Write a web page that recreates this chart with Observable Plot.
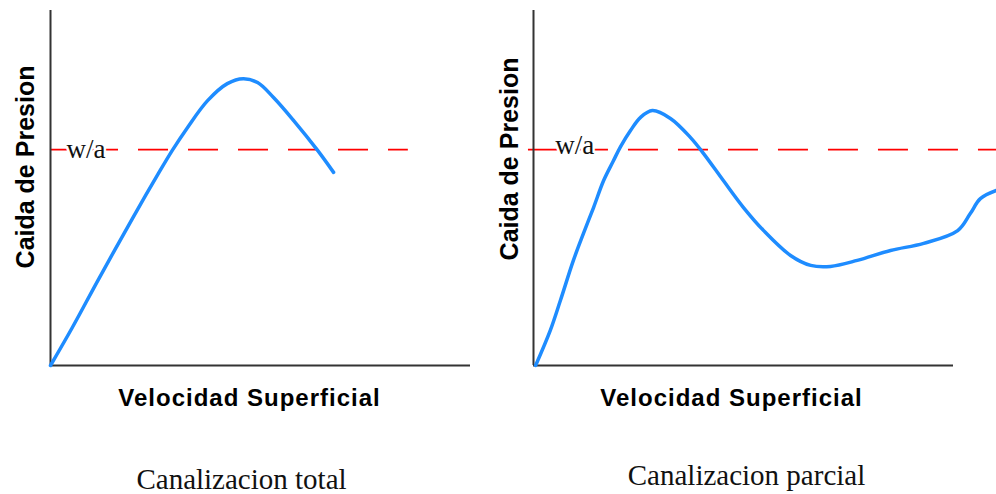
<!DOCTYPE html>
<html>
<head>
<meta charset="utf-8">
<script src="https://cdn.jsdelivr.net/npm/d3@7"></script>
<script src="https://cdn.jsdelivr.net/npm/@observablehq/plot@0.6"></script>
<style>
  html, body { margin: 0; padding: 0; background: #fff; }
  #wrap { display: flex; width: 996px; height: 494px; overflow: hidden; }
  .xlab text { letter-spacing: 1px; }
</style>
</head>
<body>
<div id="wrap"></div>
<script>
// ---- data (arbitrary units: x 0–100 along axis, y 0–100 up the axis) ----
const titles = ["Canalizacion total", "Canalizacion parcial"];
const xLabel = "Velocidad Superficial";
const yLabel = "Caida de Presion";
const thresholdLabel = "w/a";
const threshold = 60.8;

const xTotal = [0, 5.2, 11.4, 19.5, 25.7, 29.0, 32.6, 37.4, 42.1, 45.9, 49.3, 53.1, 57.9, 63.6, 67.4];
const yTotal = [0, 10.7, 24.2, 41.4, 54.1, 60.6, 67.0, 74.6, 79.4, 80.8, 79.7, 75.5, 69.0, 60.6, 54.4];

const xParcial = [0.5, 4.0, 6.4, 9.5, 11.9, 14.3, 16.7, 19.0, 20.7, 23.1, 25.5, 28.3, 32.6, 37.4, 40.5, 45.2, 50.0, 54.8, 61.2, 66.0, 70.7, 77.1, 85.0, 92.9, 101.0, 104.0, 106.4, 110.2];
const yParcial = [0, 9.9, 18.3, 29.6, 37.2, 44.5, 52.1, 57.6, 61.6, 66.2, 69.9, 71.8, 69.6, 64.2, 59.7, 52.1, 44.5, 38.0, 31.0, 28.2, 27.9, 29.6, 32.4, 34.4, 38.0, 42.8, 47.0, 49.3];

const BLUE = "#1e8cff", RED = "#ff0000", AXIS = "#333";
const SANS = "Liberation Sans, Arial, sans-serif";
const SERIF = "Liberation Serif, Times New Roman, serif";

function panel(cfg) {
  const pts = cfg.xs.map((x, i) => ({x, y: cfg.ys[i]}));
  return Plot.plot({
    width: cfg.width, height: 494,
    marginLeft: cfg.marginLeft, marginRight: cfg.marginRight,
    marginTop: 10, marginBottom: 129,
    x: {domain: cfg.xDomain, axis: null},
    y: {domain: [0, 100], axis: null},
    marks: [
      Plot.ruleY([threshold], {x1: cfg.dash[0], x2: cfg.dash[1], stroke: RED, strokeWidth: 1.8, strokeDasharray: "30,20", strokeDashoffset: cfg.dashOffset}),
      Plot.text([thresholdLabel], {x: cfg.waX, y: threshold, text: d => d, textAnchor: "start", lineAnchor: "bottom", dy: cfg.waDy,
        fontFamily: SERIF, fontSize: 27, fill: "#111", stroke: "white", strokeWidth: 5}),
      Plot.ruleX([0], {y1: 0, y2: 100, stroke: AXIS, strokeWidth: 2}),
      Plot.ruleY([0], {x1: 0, x2: 100, stroke: AXIS, strokeWidth: 2}),
      Plot.line(pts, {x: "x", y: "y", stroke: BLUE, strokeWidth: 3.5, curve: "catmull-rom"}),
      Plot.text([yLabel], {frameAnchor: "left", text: d => d, rotate: -90, textAnchor: "middle", lineAnchor: "bottom",
        dx: cfg.yLabDx, dy: cfg.yLabDy, fontFamily: SANS, fontWeight: "bold", fontSize: 25, fill: "#000"}),
      Plot.text([xLabel], {frameAnchor: "bottom", text: d => d, textAnchor: "middle", lineAnchor: "bottom",
        dx: cfg.xLabDx, dy: 40, fontFamily: SANS, fontWeight: "bold", fontSize: 24, fill: "#000", className: "xlab"}),
      Plot.text([cfg.title], {frameAnchor: "bottom", text: d => d, textAnchor: "middle", lineAnchor: "bottom",
        dx: cfg.titleDx, dy: cfg.titleDy, fontFamily: SERIF, fontSize: 29, fill: "#111"})
    ]
  });
}

const wrap = document.getElementById("wrap");
wrap.appendChild(panel({
  title: titles[0], xs: xTotal, ys: yTotal, width: 490, marginLeft: 50, marginRight: 20,
  xDomain: [0, 100], dash: [0, 85.2], dashOffset: 12, waX: 3.8, waDy: 8,
  yLabDx: -17, yLabDy: -21, xLabDx: -11, titleDx: -19, titleDy: 123
}));
wrap.appendChild(panel({
  title: titles[1], xs: xParcial, ys: yParcial, width: 506, marginLeft: 43, marginRight: 0,
  xDomain: [0, 463 / 4.2], dash: [-1.2, 463 / 4.2], dashOffset: 0, waX: 5.2, waDy: 4,
  yLabDx: -16, yLabDy: -29, xLabDx: -33.5, titleDx: -18.5, titleDy: 119
}));
</script>
</body>
</html>
